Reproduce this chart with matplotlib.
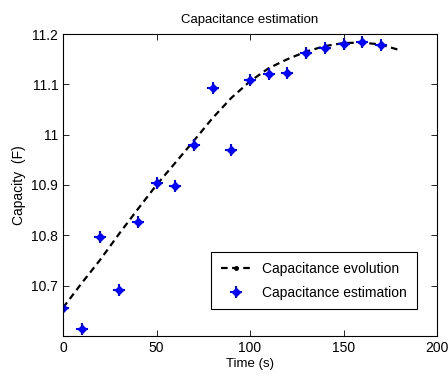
import matplotlib
matplotlib.use('Agg')
import matplotlib.pyplot as plt
from matplotlib.lines import Line2D

plt.rcParams['font.family'] = ['Liberation Sans', 'DejaVu Sans']

## Data
t_est = [0, 10, 20, 30, 40, 50, 60, 70, 80, 90, 100, 110, 120, 130, 140, 150, 160, 170]
c_est = [10.656, 10.614, 10.797, 10.692, 10.826, 10.903, 10.898, 10.980, 11.093, 10.970,
         11.108, 11.120, 11.123, 11.163, 11.173, 11.181, 11.185, 11.178]

t_evo = [0, 10, 20, 30, 40, 50, 60, 70, 80, 90, 100, 110, 120, 130, 140, 150, 160, 170, 180]
c_evo = [10.656, 10.705, 10.752, 10.803, 10.852, 10.900, 10.944, 10.988, 11.033, 11.073,
         11.106, 11.132, 11.150, 11.165, 11.176, 11.182, 11.183, 11.179, 11.168]

fig = plt.figure(figsize=(4.48, 3.78), dpi=100)
ax = fig.add_axes([63 / 448, 1 - 336 / 378, 374 / 448, 302 / 378])

ax.plot(t_evo, c_evo, 'k--', lw=1.6, dashes=(3, 2))
ax.plot(t_est, c_est, 'bD', ms=4.5, ls='none')
ax.plot(t_est, c_est, 'b+', ms=9, mew=1.5, ls='none')

ax.set_xlim(0, 200)
ax.set_ylim(10.6, 11.2)
ax.set_xticks([0, 50, 100, 150, 200])
ax.set_yticks([10.7, 10.8, 10.9, 11.0, 11.1, 11.2])
ax.set_yticklabels(['10.7', '10.8', '10.9', '11', '11.1', '11.2'])
ax.tick_params(direction='in', top=True, right=True, labelsize=10, length=4, width=0.6)
for s in ax.spines.values():
    s.set_linewidth(0.8)

ax.set_title('Capacitance estimation', fontsize=9.5, pad=8)
ax.set_xlabel('Time (s)', fontsize=9.5, labelpad=2)
ax.set_ylabel('Capacity  (F)', fontsize=10, labelpad=4)

# legend
h_evo = Line2D([], [], color='k', ls='--', dashes=(3, 2), lw=1.6, marker='.', ms=5)
h_d = Line2D([], [], color='b', marker='D', ms=4, ls='none')
h_p = Line2D([], [], color='b', marker='+', ms=8, mew=1.5, ls='none')
leg = ax.legend([h_evo, (h_d, h_p)], ['Capacitance evolution', 'Capacitance estimation'],
                loc='lower right', bbox_to_anchor=(0.965, 0.065), fontsize=10,
                fancybox=False, framealpha=1, edgecolor='k', handlelength=2.2,
                borderpad=0.7, labelspacing=0.7)
leg.get_frame().set_linewidth(0.8)

fig.savefig('out.png', dpi=100)
plt.close('all')
